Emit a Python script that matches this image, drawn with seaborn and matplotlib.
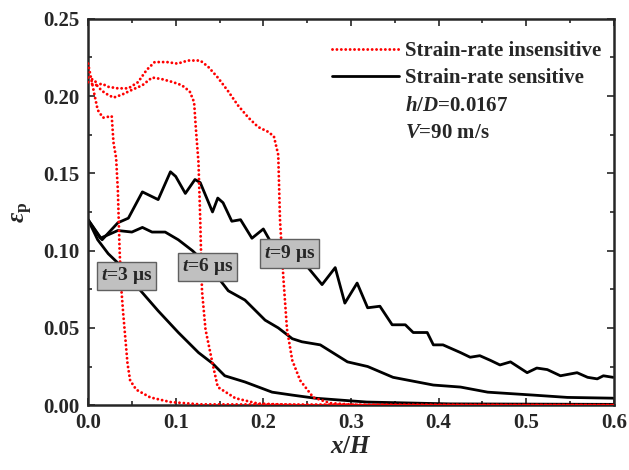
import seaborn as sns
import matplotlib.pyplot as plt
from matplotlib.lines import Line2D
from matplotlib.ticker import MultipleLocator

# strain-rate insensitive (red dotted)
ins_t3_x = [0.000, 0.008, 0.011, 0.017, 0.027, 0.029, 0.032, 0.034, 0.036, 0.038, 0.040, 0.045, 0.048, 0.055, 0.071, 0.094, 0.128, 0.600]
ins_t3_y = [0.221, 0.199, 0.191, 0.186, 0.187, 0.170, 0.160, 0.139, 0.100, 0.075, 0.060, 0.027, 0.016, 0.010, 0.005, 0.002, 0.0005, 0.0]

ins_t6_x = [0.000, 0.008, 0.011, 0.019, 0.029, 0.039, 0.050, 0.062, 0.073, 0.084, 0.097, 0.107, 0.116, 0.121, 0.123,
            0.126, 0.128, 0.130, 0.134, 0.142, 0.148, 0.168, 0.194, 0.242, 0.600]
ins_t6_y = [0.212, 0.210, 0.206, 0.202, 0.199, 0.201, 0.204, 0.207, 0.212, 0.211, 0.209, 0.207, 0.203, 0.196, 0.179,
            0.157, 0.120, 0.074, 0.049, 0.027, 0.0117, 0.0045, 0.001, 0.0, 0.0]

ins_t9_x = [0.000, 0.008, 0.016, 0.023, 0.034, 0.046, 0.057, 0.067, 0.076, 0.090, 0.102, 0.114, 0.128, 0.137, 0.148,
            0.160, 0.171, 0.183, 0.194, 0.205, 0.212, 0.217, 0.219, 0.223, 0.227, 0.233, 0.242, 0.257, 0.276, 0.311, 0.600]
ins_t9_y = [0.209, 0.207, 0.208, 0.206, 0.205, 0.205, 0.209, 0.217, 0.222, 0.222, 0.221, 0.223, 0.223, 0.219, 0.212,
            0.203, 0.194, 0.186, 0.180, 0.177, 0.174, 0.162, 0.120, 0.081, 0.049, 0.029, 0.016, 0.005, 0.0013, 0.0, 0.0]

# strain-rate sensitive (black solid)
sen_t3_x = [0.000, 0.011, 0.023, 0.034, 0.057, 0.080, 0.103, 0.126, 0.142, 0.156, 0.179, 0.210, 0.233, 0.259, 0.318, 0.413, 0.600]
sen_t3_y = [0.120, 0.107, 0.098, 0.092, 0.076, 0.061, 0.047, 0.034, 0.027, 0.019, 0.015, 0.0084, 0.0065, 0.0045, 0.002, 0.0008, 0.0005]

sen_t6_x = [0.000, 0.014, 0.034, 0.050, 0.062, 0.073, 0.088, 0.103, 0.119, 0.130, 0.145, 0.160, 0.179, 0.202, 0.217,
            0.233, 0.244, 0.265, 0.296, 0.319, 0.348, 0.394, 0.425, 0.456, 0.508, 0.547, 0.599]
sen_t6_y = [0.120, 0.108, 0.113, 0.112, 0.115, 0.112, 0.112, 0.107, 0.100, 0.094, 0.085, 0.074, 0.068, 0.055, 0.050,
            0.043, 0.041, 0.039, 0.028, 0.025, 0.018, 0.013, 0.0117, 0.0084, 0.0065, 0.005, 0.0045]

sen_t9_x = [0.000, 0.016, 0.034, 0.046, 0.062, 0.080, 0.094, 0.100, 0.111, 0.122, 0.128, 0.142, 0.148, 0.154, 0.164,
            0.174, 0.187, 0.200, 0.207, 0.225, 0.239, 0.251, 0.267, 0.282, 0.293, 0.307, 0.319, 0.333, 0.347, 0.362,
            0.371, 0.387, 0.394, 0.405, 0.425, 0.436, 0.447, 0.459, 0.470, 0.482, 0.501, 0.512, 0.524, 0.539, 0.558,
            0.570, 0.581, 0.588, 0.599]
sen_t9_y = [0.120, 0.107, 0.118, 0.121, 0.138, 0.133, 0.151, 0.148, 0.137, 0.146, 0.144, 0.125, 0.134, 0.131, 0.119,
            0.120, 0.108, 0.114, 0.107, 0.095, 0.089, 0.089, 0.078, 0.089, 0.066, 0.079, 0.063, 0.064, 0.052, 0.052,
            0.047, 0.047, 0.039, 0.039, 0.034, 0.031, 0.032, 0.029, 0.026, 0.028, 0.021, 0.024, 0.023, 0.019, 0.021,
            0.018, 0.017, 0.019, 0.018]

time_labels = [r"$t$=3 μs", r"$t$=6 μs", r"$t$=9 μs"]
label_x = [0.0435, 0.136, 0.2295]
label_y = [0.0836, 0.0894, 0.0983]

legend_labels = ["Strain-rate insensitive", "Strain-rate sensitive", r"$h/D$=0.0167", r"$V$=90 m/s"]

sns.set_style("ticks")
plt.rcParams.update({
    "font.family": ["Liberation Serif", "DejaVu Serif"],
    "font.weight": "bold",
    "mathtext.fontset": "custom",
    "mathtext.rm": "Liberation Serif:bold",
    "mathtext.it": "Liberation Serif:italic:bold",
    "mathtext.bf": "Liberation Serif:bold",
    "xtick.direction": "in",
    "ytick.direction": "in",
})

fig, ax = plt.subplots(figsize=(6.29, 4.70), dpi=100)
fig.subplots_adjust(left=0.140, right=0.976, top=0.960, bottom=0.138)

dots = (0, (0.01, 1.5))
red_style = dict(color="#ff0000", linewidth=2.1, linestyle=dots, dash_capstyle="round", zorder=3)
black_style = dict(color="black", linewidth=2.0, zorder=2)

for xs, ys in [(sen_t3_x, sen_t3_y), (sen_t6_x, sen_t6_y), (sen_t9_x, sen_t9_y)]:
    sns.lineplot(x=xs, y=ys, sort=False, estimator=None, ax=ax, **black_style)
for xs, ys in [(ins_t3_x, ins_t3_y), (ins_t6_x, ins_t6_y), (ins_t9_x, ins_t9_y)]:
    sns.lineplot(x=xs, y=ys, sort=False, estimator=None, ax=ax, **red_style)

for lab, lx, ly in zip(time_labels, label_x, label_y):
    ax.text(lx, ly, lab, fontsize=14, ha="center", va="center", zorder=5,
            bbox=dict(boxstyle="square,pad=0.2", fc="#c0c0c0", ec="#606060", lw=1))

handles = [
    Line2D([], [], color="#ff0000", linewidth=2.1, linestyle=dots, dash_capstyle="round"),
    Line2D([], [], color="black", linewidth=2.0),
    Line2D([], [], linestyle="none"),
    Line2D([], [], linestyle="none"),
]
ax.legend(handles, legend_labels, loc="upper right", bbox_to_anchor=(1.0, 0.975), frameon=False,
          fontsize=15, handlelength=3.2, handletextpad=0.3, labelspacing=0.36, borderaxespad=0.2)

ax.set_xlim(0, 0.6)
ax.set_ylim(0, 0.25)
ax.xaxis.set_major_locator(MultipleLocator(0.1))
ax.xaxis.set_minor_locator(MultipleLocator(0.05))
ax.yaxis.set_major_locator(MultipleLocator(0.05))
ax.yaxis.set_minor_locator(MultipleLocator(0.025))
ax.xaxis.set_major_formatter(plt.FormatStrFormatter("%.1f"))
ax.yaxis.set_major_formatter(plt.FormatStrFormatter("%.2f"))
ax.tick_params(which="major", length=5, width=1.2, labelsize=15, top=True, right=True, pad=6)
ax.tick_params(which="minor", length=3, width=1.2, top=True, right=True)
for lab in ax.get_xticklabels() + ax.get_yticklabels():
    lab.set_fontweight("bold")
for sp in ax.spines.values():
    sp.set_linewidth(1.8)

ax.set_xlabel(r"$x/H$", fontsize=18, labelpad=2)
ax.set_ylabel(r"$\varepsilon_{\rm p}$", fontsize=18, labelpad=6)

fig.savefig("out.png", dpi=100)
